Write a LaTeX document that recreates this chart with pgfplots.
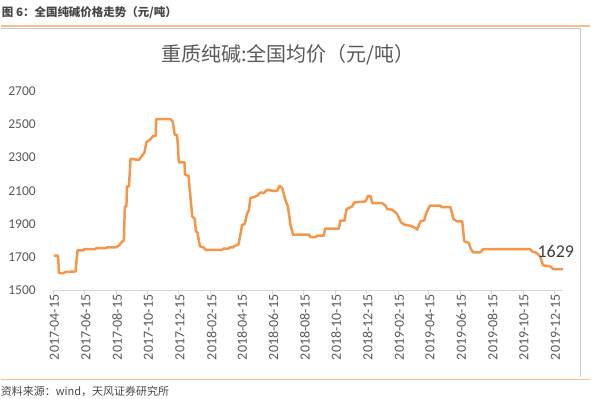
\documentclass[border=0pt]{standalone}
\usepackage{pgfplots}
\pgfplotsset{compat=1.18}
\usepackage{pgfplotstable}
\usepackage{fontspec}
\setmainfont{Carlito}
\newfontfamily\cjk{Noto Sans CJK SC}
\definecolor{lineorange}{RGB}{246,150,72}
\definecolor{hdrorange}{RGB}{249,190,140}
\definecolor{txtgray}{RGB}{89,89,89}
\definecolor{axgray}{RGB}{217,217,217}
\definecolor{brdgray}{RGB}{200,200,200}
\pgfplotstableread{
day value
1 1710
9 1710
11 1605
19 1605
24 1612
41 1615
43 1615
47 1742
59 1742
60 1750
82 1750
83 1755
103 1755
104 1760
121 1760
127 1770
134 1796
137 1800
139 2006
142 2006
143 2126
147 2126
150 2292
166 2285
170 2300
177 2330
181 2392
189 2410
194 2430
199 2430
200 2530
228 2530
232 2515
236 2436
240 2436
241 2417
244 2270
255 2270
256 2196
263 2190
264 2146
270 1946
275 1930
277 1856
280 1850
285 1766
292 1760
296 1745
328 1745
331 1753
341 1753
343 1760
350 1760
351 1768
354 1770
360 1778
363 1826
367 1896
372 1900
377 1966
380 1980
383 2056
390 2062
396 2070
403 2090
409 2086
416 2106
426 2100
435 2100
440 2130
445 2116
451 2046
456 2006
461 1896
466 1836
497 1836
500 1822
510 1822
513 1830
526 1830
528 1872
555 1872
558 1920
566 1920
570 1990
581 2006
585 2030
607 2036
612 2070
617 2066
620 2026
639 2026
646 2010
649 1990
659 1986
668 1962
676 1910
683 1896
694 1890
704 1876
707 1866
714 1916
721 1922
725 1966
732 2010
753 2010
754 2002
772 2002
773 1990
778 1930
785 1916
795 1916
799 1796
808 1786
811 1756
816 1730
830 1730
836 1750
927 1750
931 1736
940 1726
947 1702
952 1652
966 1646
972 1630
991 1629
}\soda
\begin{document}
\begin{tikzpicture}
\path (0,0) rectangle (594pt,399pt);
% header
\node[anchor=west, inner sep=0pt, text=txtgray!80!black, font=\cjk\bfseries\fontsize{11.5}{13}\selectfont] at (1pt,386pt) {图 6：全国纯碱价格走势（元/吨）};
\draw[hdrorange, line width=1.5pt] (0,373pt) -- (590pt,373pt);
\draw[brdgray, line width=0.8pt] (0,370.5pt) -- (580pt,370.5pt) -- (580pt,22pt);
% footer
\draw[hdrorange, line width=1.5pt] (0,19pt) -- (590pt,19pt);
\node[anchor=west, inner sep=0pt, text=txtgray!80!black, font=\cjk\fontsize{11}{13}\selectfont] at (0pt,7pt) {资料来源：wind，天风证券研究所};
% title
\node[inner sep=0pt, text=txtgray, font=\cjk\fontsize{20}{24}\selectfont] at (287.5pt,344pt) {重质纯碱:全国均价（元/吨）};
\begin{axis}[
  at={(52.7pt,108pt)}, anchor=south west,
  scale only axis, width=510.3pt, height=200pt,
  xmin=0, xmax=991, ymin=1500, ymax=2700,
  axis x line*=bottom, axis y line*=left,
  x axis line style={axgray, line width=0.8pt, -},
  y axis line style={draw=none},
  ytick={1500,1700,...,2700},
  ytick style={draw=none},
  xtick={0,61,122,183,244,306,365,426,487,548,609,671,730,791,852,913,974},
  xticklabels={2017-04-15,2017-06-15,2017-08-15,2017-10-15,2017-12-15,2018-02-15,2018-04-15,2018-06-15,2018-08-15,2018-10-15,2018-12-15,2019-02-15,2019-04-15,2019-06-15,2019-08-15,2019-10-15,2019-12-15},
  xtick style={axgray, line width=0.8pt},
  tick align=outside, major tick length=4pt,
  /pgf/number format/assume math mode=true,
  /pgf/number format/1000 sep={},
  yticklabel style={font=\fontsize{13.5}{15}\selectfont, text=txtgray, anchor=east, inner sep=0pt, xshift=-13.5pt},
  xticklabel style={font=\fontsize{14}{16}\selectfont, text=txtgray, rotate=90, anchor=east, inner sep=0pt, yshift=-1pt},
  clip=false,
]
\addplot[lineorange, line width=2.5pt, line join=round] table[x=day, y=value] {\soda};
\node[anchor=base west, inner sep=0pt, text=black!75, font=\fontsize{18}{20}\selectfont] at (axis cs:941,1702) {1629};
\end{axis}
\end{tikzpicture}
\end{document}
